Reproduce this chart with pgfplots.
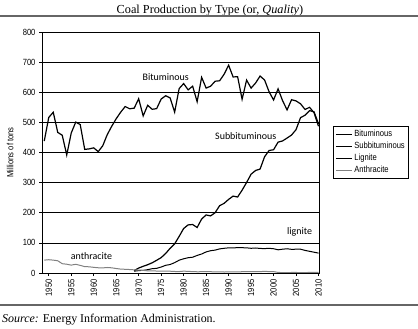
\documentclass[border=0pt]{standalone}
\usepackage{fontspec}
\setmainfont{Liberation Serif}
\newfontfamily\narrow[FakeStretch=0.85]{Liberation Sans}
\newfontfamily\calib{Carlito}
\usepackage{pgfplots}
\usepackage{pgfplotstable}
\pgfplotsset{compat=1.18}

\pgfplotstableread{
year val
1949 437.9
1950 516.3
1951 533.7
1952 466.8
1953 457.3
1954 391.7
1955 464.6
1956 500.9
1957 492.7
1958 410.4
1959 412.0
1960 415.5
1961 402.9
1962 422.1
1963 458.9
1964 487.0
1965 512.1
1966 533.9
1967 552.6
1968 545.2
1969 547.2
1970 578.5
1971 521.3
1972 556.8
1973 543.5
1974 545.7
1975 577.5
1976 588.4
1977 581.0
1978 534.0
1979 612.3
1980 628.8
1981 608.0
1982 620.2
1983 568.6
1984 649.5
1985 613.9
1986 620.1
1987 636.6
1988 638.1
1989 659.8
1990 690.0
1991 650.7
1992 651.8
1993 576.7
1994 640.3
1995 613.8
1996 630.7
1997 653.8
1998 640.6
1999 601.7
2000 574.3
2001 611.3
2002 572.1
2003 541.5
2004 575.3
2005 571.2
2006 561.6
2007 542.8
2008 550.0
2009 532.0
2010 487.0
}\bitum

\pgfplotstableread{
year val
1969 8.0
1970 16.4
1971 22.2
1972 27.5
1973 33.9
1974 42.2
1975 51.1
1976 64.8
1977 82.1
1978 96.8
1979 121.5
1980 147.7
1981 159.7
1982 160.9
1983 151.0
1984 179.2
1985 192.7
1986 189.6
1987 200.2
1988 223.5
1989 231.2
1990 244.3
1991 255.3
1992 252.2
1993 274.9
1994 300.5
1995 328.0
1996 340.3
1997 345.1
1998 385.9
1999 406.7
2000 409.2
2001 434.4
2002 438.4
2003 448.0
2004 458.0
2005 476.0
2006 515.9
2007 523.7
2008 539.1
2009 535.0
2010 495.0
}\subbit

\pgfplotstableread{
year val
1969 6.0
1970 8.0
1971 8.7
1972 11.0
1973 14.3
1974 15.5
1975 19.8
1976 25.5
1977 28.2
1978 34.4
1979 42.5
1980 47.2
1981 50.7
1982 52.4
1983 58.3
1984 63.1
1985 70.0
1986 74.0
1987 76.0
1988 80.0
1989 82.0
1990 83.5
1991 83.0
1992 84.5
1993 84.0
1994 83.5
1995 82.0
1996 83.0
1997 81.5
1998 81.0
1999 82.0
2000 80.5
2001 77.0
2002 79.0
2003 80.5
2004 78.5
2005 79.0
2006 79.0
2007 75.0
2008 72.0
2009 69.0
2010 66.0
}\lignite

\pgfplotstableread{
year val
1949 42.7
1950 44.1
1951 42.7
1952 40.6
1953 30.9
1954 29.1
1955 26.2
1956 28.9
1957 25.3
1958 21.2
1959 20.6
1960 18.8
1961 17.4
1962 16.9
1963 18.3
1964 17.2
1965 14.9
1966 12.9
1967 12.3
1968 11.5
1969 10.5
1970 9.7
1971 8.7
1972 7.1
1973 6.8
1974 6.6
1975 6.2
1976 6.2
1977 5.9
1978 5.0
1979 4.8
1980 6.1
1981 5.4
1982 4.6
1983 4.1
1984 4.2
1985 4.7
1986 4.3
1987 3.6
1988 3.6
1989 3.3
1990 3.5
1991 3.4
1992 3.5
1993 4.3
1994 4.6
1995 4.7
1996 4.8
1997 4.7
1998 5.3
1999 4.8
2000 4.6
2001 1.9
2002 1.4
2003 1.3
2004 1.7
2005 1.7
2006 1.5
2007 1.6
2008 1.7
2009 1.9
2010 1.8
}\anthra

\begin{document}
\begin{tikzpicture}
\useasboundingbox (0bp,0bp) rectangle (418bp,329bp);
\node[font=\fontsize{12.3}{14}\selectfont] at (210bp,318.5bp) {Coal Production by Type (or, \textit{Quality})};
\draw[line width=1.1bp, black!60] (0bp,313bp) -- (418bp,313bp);
\draw[line width=1.1bp, black!60] (0bp,24bp) -- (418bp,24bp);
\node[anchor=west,font=\fontsize{12}{14}\selectfont, inner sep=0pt] at (2bp,9bp) {\textit{Source:} Energy Information Administration.};
\begin{axis}[
  at={(42bp,56bp)}, anchor=south west,
  scale only axis, width=277bp, height=241bp,
  xmin=1948.5, xmax=2010.1, ymin=0, ymax=800,
  xtick={1950,1955,...,2010}, ytick={0,100,...,800},
  /pgf/number format/assume math mode=true,
  /pgf/number format/1000 sep={},
  x tick label style={rotate=90, anchor=east, font=\narrow\fontsize{9}{10}\selectfont},
  y tick label style={font=\narrow\fontsize{9}{10}\selectfont},
  tick align=outside, tick pos=left, major tick length=3bp,
  tick style={black, line width=0.7bp},
  ymajorgrids, grid style={black, line width=0.7bp},
  axis line style={black, line width=0.9bp},
  ylabel={Millions of tons},
  every axis y label/.style={at={(axis description cs:-0.115,0.5)}, rotate=90, anchor=center, font=\narrow\fontsize{9}{10}\selectfont},
  legend style={at={(rel axis cs:1.05,0.61)}, anchor=north west, draw=black, line width=0.7bp,
    font=\narrow\fontsize{9}{10}\selectfont, inner sep=2bp, row sep=0bp},
  legend cell align=left,
  legend image code/.code={\draw[#1] (0bp,0bp) -- (16bp,0bp);},
]
\addplot[black, line width=1.2bp] table[x=year,y=val] {\bitum};
\addlegendentry{Bituminous}
\addplot[black, line width=1.2bp] table[x=year,y=val] {\subbit};
\addlegendentry{Subbituminous}
\addplot[black, line width=1bp] table[x=year,y=val] {\lignite};
\addlegendentry{Lignite}
\addplot[black!50, line width=1bp] table[x=year,y=val] {\anthra};
\addlegendentry{Anthracite}
\node[font=\calib\fontsize{10}{12}\selectfont] at (axis cs:1976,651) {Bituminous};
\node[font=\calib\fontsize{10}{12}\selectfont] at (axis cs:1993.8,453) {Subbituminous};
\node[font=\calib\fontsize{10}{12}\selectfont] at (axis cs:2005.8,135) {lignite};
\node[font=\calib\fontsize{10}{12}\selectfont] at (axis cs:1959.5,56) {anthracite};
\end{axis}
\end{tikzpicture}
\end{document}
